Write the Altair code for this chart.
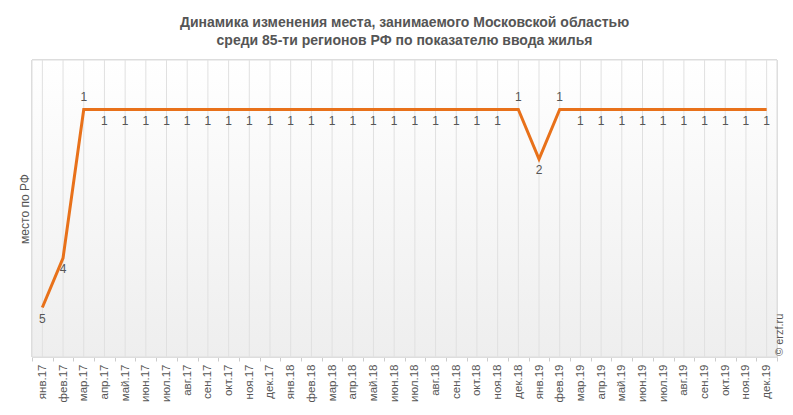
import altair as alt
import pandas as pd

months = ["янв.17","фев.17","мар.17","апр.17","май.17","июн.17","июл.17","авг.17","сен.17","окт.17","ноя.17","дек.17",
          "янв.18","фев.18","мар.18","апр.18","май.18","июн.18","июл.18","авг.18","сен.18","окт.18","ноя.18","дек.18",
          "янв.19","фев.19","мар.19","апр.19","май.19","июн.19","июл.19","авг.19","сен.19","окт.19","ноя.19","дек.19"]
ranks = [5,4,1,1,1,1,1,1,1,1,1,1,
         1,1,1,1,1,1,1,1,1,1,1,1,
         2,1,1,1,1,1,1,1,1,1,1,1]

title_lines = ["Динамика изменения места, занимаемого Московской областью",
               "среди 85-ти регионов РФ по показателю ввода жилья"]
y_title = "место по РФ"
watermark = "© erzf.ru"

W, H = 745, 297

# label above when point is at least as good as both neighbours and differs from one
above = []
for i, v in enumerate(ranks):
    nb = [ranks[j] for j in (i - 1, i + 1) if 0 <= j < len(ranks)]
    above.append(all(v <= n for n in nb) and any(v != n for n in nb))

df = pd.DataFrame({"month": months, "rank": ranks, "above": above})

xenc = alt.X("month:N", sort=months,
             scale=alt.Scale(type="band", paddingInner=0, paddingOuter=0),
             axis=alt.Axis(title=None, labelAngle=270, labelFontSize=11.5, labelColor="#555",
                           labelFont="Liberation Sans", labelPadding=3,
                           tickBand="extent", tickSize=4, tickColor="#cccccc",
                           domainColor="#cccccc", grid=False))
yenc = alt.Y("rank:Q", scale=alt.Scale(domain=[0, 6], reverse=True, nice=False, zero=False),
             axis=alt.Axis(title=y_title, labels=False, ticks=False, domain=False, grid=False,
                           titleFontSize=12, titleFont="Liberation Sans", titleFontWeight="normal",
                           titleColor="#555", titlePadding=1))

base = alt.Chart(df)

bg = base.mark_rect(
    color=alt.Gradient(gradient="linear",
                       stops=[alt.GradientStop(color="#ffffff", offset=0),
                              alt.GradientStop(color="#eeeeee", offset=1)],
                       x1=0, x2=0, y1=0, y2=1),
    stroke="#dddddd", strokeWidth=1
).encode(x=alt.value(0), x2=alt.value(W), y=alt.value(0), y2=alt.value(H))

grid = base.mark_rule(color="#e0e0e0", strokeWidth=1).encode(
    x=xenc, y=alt.value(0), y2=alt.value(H))

line = base.mark_line(color="#E8711A", strokeWidth=3).encode(x=xenc, y=yenc)

lab_above = base.transform_filter("datum.above").mark_text(
    dy=-13, fontSize=12, font="Liberation Sans", color="#555").encode(x=xenc, y=yenc, text="rank:Q")
lab_below = base.transform_filter("!datum.above").mark_text(
    dy=11, fontSize=12, font="Liberation Sans", color="#555").encode(x=xenc, y=yenc, text="rank:Q")

wm = alt.Chart(pd.DataFrame({"t": [watermark]})).mark_text(
    angle=270, align="left", baseline="middle", fontSize=11, font="Liberation Sans", color="#555"
).encode(x=alt.value(W + 3), y=alt.value(H - 1), text="t:N")

chart = alt.layer(bg, grid, line, lab_above, lab_below, wm).properties(
    width=W, height=H,
    title=alt.TitleParams(text=title_lines, fontSize=14, font="Liberation Sans", fontWeight="bold",
                          color="#555", anchor="middle", offset=12, lineHeight=18),
    autosize=alt.AutoSizeParams(type="none"),
    padding={"left": 24, "top": 52, "right": 8, "bottom": 48}
).configure_view(stroke=None)

chart.save("out.html", embed_options={"renderer": "svg", "actions": False})
